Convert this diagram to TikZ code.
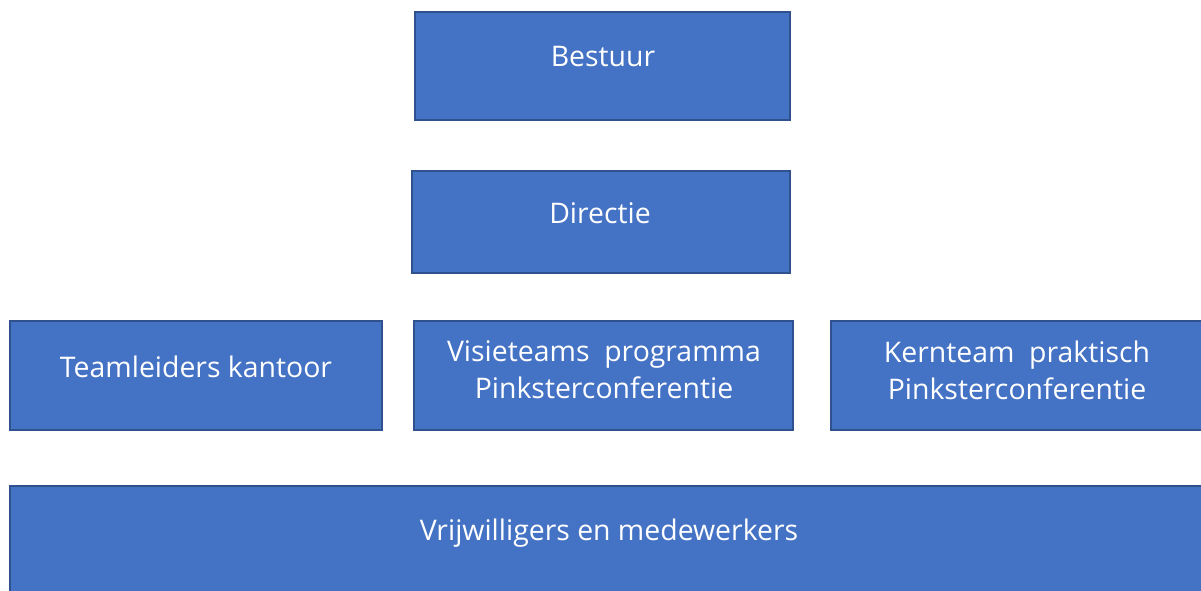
\documentclass[tikz,border=0pt]{standalone}
\usepackage{fontspec}
\setmainfont{Open Sans}
\definecolor{boxfill}{HTML}{4472C4}
\definecolor{boxline}{HTML}{2F528F}
\tikzset{
  orgbox/.style={draw=boxline, fill=boxfill, line width=1.5pt},
  orgtext/.style={text=white, font=\fontsize{28.4}{37}\selectfont, align=center, inner sep=0pt}
}
\begin{document}
\begin{tikzpicture}[x=1pt,y=-1pt]
\useasboundingbox (0,0) rectangle (1201,591);
\fill[white] (0,0) rectangle (1201,591);
\draw[orgbox] (415,12) rectangle (790,120);
\draw[orgbox] (412,171) rectangle (790,273);
\draw[orgbox] (10,321) rectangle (382,430);
\draw[orgbox] (414,321) rectangle (793,430);
\draw[orgbox] (831,321) rectangle (1205,430);
\draw[orgbox] (10,486) rectangle (1205,595);
\node[orgtext] (bestuur) at (603,57) {Bestuur};
\node[orgtext] (directie) at (600,213) {Directie};
\node[orgtext] (team) at (196,367) {Teamleiders kantoor};
\node[orgtext] (visie) at (604,370) {Visieteams~~programma\\Pinksterconferentie};
\node[orgtext] (kern) at (1017,370) {Kernteam~~praktisch\\Pinksterconferentie};
\node[orgtext] (vrij) at (609,533) {Vrijwilligers en medewerkers};
\end{tikzpicture}
\end{document}
